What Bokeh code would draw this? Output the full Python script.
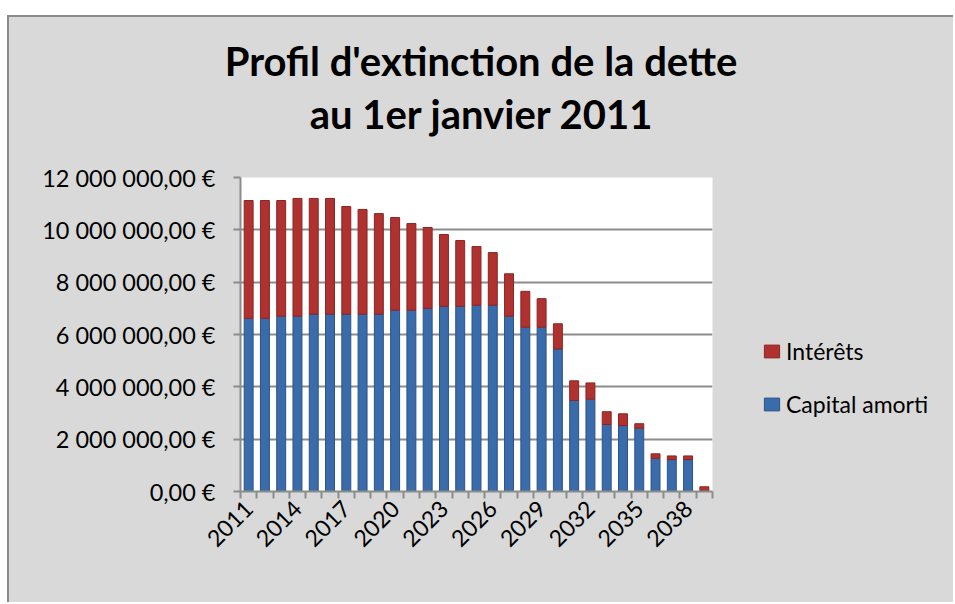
import math
from bokeh.plotting import figure
from bokeh.models import (Range1d, FixedTicker, Legend, LegendItem, Div,
                          Spacer, ColumnDataSource)
from bokeh.layouts import column, row
from bokeh.embed import file_html
from bokeh.resources import INLINE

# ---- data ----
years = list(range(2011, 2040))
capital_amorti = [6620000, 6620000, 6700000, 6700000, 6780000, 6780000, 6780000,
                  6780000, 6780000, 6930000, 6930000, 7000000, 7080000, 7080000,
                  7120000, 7120000, 6700000, 6280000, 6280000, 5450000, 3480000,
                  3530000, 2560000, 2520000, 2420000, 1270000, 1220000, 1220000,
                  30000]
interets = [4500000, 4500000, 4420000, 4500000, 4420000, 4420000, 4110000,
            4000000, 3840000, 3540000, 3310000, 3090000, 2740000, 2510000,
            2240000, 2010000, 1620000, 1370000, 1090000, 960000, 750000,
            620000, 490000, 450000, 170000, 170000, 140000, 140000, 150000]
series_names = ["Capital amorti", "Intérêts"]
series_colors = ["#3A6CAB", "#B03230"]
series_edges = ["#2B5386", "#8A2523"]
y_ticks = [0, 2000000, 4000000, 6000000, 8000000, 10000000, 12000000]
y_tick_labels = ["0,00 €", "2 000 000,00 €", "4 000 000,00 €", "6 000 000,00 €",
                 "8 000 000,00 €", "10 000 000,00 €", "12 000 000,00 €"]
x_tick_years = [2011, 2014, 2017, 2020, 2023, 2026, 2029, 2032, 2035, 2038]
title_lines = ["Profil d'extinction de la dette", "au 1er janvier 2011"]

FONT = "Lato"
BG = "#D9D9D9"
AXC = "#8C8C8C"
BORDER = "2px solid #8a8a8a"

source = ColumnDataSource(dict(year=years, capital=capital_amorti, interets=interets))

# ---- title block ----
title_div = Div(
    text=('<div style="font-family:Lato;font-weight:bold;font-size:40px;'
          'line-height:53px;color:black;text-align:center;width:932px;'
          'padding-left:12px;padding-top:18px;">'
          + title_lines[0] + '<br>' + title_lines[1] + '</div>'),
    width=944, height=140, margin=0)

# ---- main chart ----
p = figure(width=742, height=445, output_backend="svg", toolbar_location=None,
           x_range=Range1d(years[0] - 0.5, years[-1] + 0.5),
           y_range=Range1d(y_ticks[0], y_ticks[-1]),
           min_border_left=231, min_border_right=39,
           min_border_top=20, min_border_bottom=111,
           background_fill_color="white", border_fill_color=BG,
           outline_line_color=None)
p.title.visible = False

rs = p.vbar_stack(["capital", "interets"], x="year", width=0.55, source=source,
                  fill_color=series_colors, line_color=series_edges, line_width=1)

# x axis
p.xaxis.ticker = FixedTicker(ticks=x_tick_years,
                             minor_ticks=[y - 0.5 for y in years] + [years[-1] + 0.5])
p.xaxis.major_label_overrides = {y: str(y) for y in x_tick_years}
p.xaxis.major_label_orientation = math.pi / 4
p.xaxis.major_tick_out = 0
p.xaxis.major_tick_in = 0
p.xaxis.minor_tick_out = 7
p.xaxis.minor_tick_in = 0
p.xaxis.minor_tick_line_color = AXC
p.xaxis.minor_tick_line_width = 2
p.xaxis.major_label_standoff = 6
p.xgrid.visible = False

# y axis
p.yaxis.ticker = FixedTicker(ticks=y_ticks, minor_ticks=[])
p.yaxis.major_label_overrides = dict(zip(y_ticks, y_tick_labels))
p.yaxis.major_tick_out = 7
p.yaxis.major_tick_in = 0
p.yaxis.minor_tick_out = 0
p.yaxis.minor_tick_in = 0
p.yaxis.major_label_standoff = 18
p.ygrid.ticker = FixedTicker(ticks=y_ticks)
p.ygrid.grid_line_color = AXC
p.ygrid.grid_line_width = 2

for ax in (p.xaxis, p.yaxis):
    ax.axis_line_color = AXC
    ax.axis_line_width = 2
    ax.major_tick_line_color = AXC
    ax.major_tick_line_width = 2
    ax.major_label_text_font = FONT
    ax.major_label_text_color = "black"
p.yaxis.major_label_text_font_size = "23.5px"
p.xaxis.major_label_text_font_size = "23px"

# ---- legend in a companion canvas to the right ----
lf = figure(width=202, height=445, output_backend="svg", toolbar_location=None,
            x_range=Range1d(0, 1), y_range=Range1d(0, 1),
            x_axis_location=None, y_axis_location=None,
            min_border=0, background_fill_alpha=0, border_fill_alpha=0,
            outline_line_color=None)
lf.title.visible = False
lf.grid.visible = False
# same data, drawn outside this canvas' visible range: only the legend swatches show
lr = [lf.vbar(x="year", top=col, width=0.55, source=source, fill_color=c, line_color=e)
      for col, c, e in zip(["capital", "interets"], series_colors, series_edges)]

legend = Legend(items=[LegendItem(label=series_names[1], renderers=[lr[1]]),
                       LegendItem(label=series_names[0], renderers=[lr[0]])],
                location=(1, 63), orientation="vertical",
                glyph_width=19, glyph_height=16, label_height=25, spacing=25,
                label_standoff=5, padding=10, margin=0,
                background_fill_alpha=0, border_line_alpha=0,
                label_text_font=FONT, label_text_font_size="23px",
                label_text_color="black")
lf.add_layout(legend)

chart_box = column(title_div, row(p, lf, spacing=0), spacing=0,
                   styles={"border-left": BORDER, "border-top": BORDER,
                           "background-color": BG})

layout = column(Spacer(width=944, height=15),
                row(Spacer(width=7, height=587), chart_box, spacing=0), spacing=0)

open("out.html", "w").write(file_html(layout, INLINE))
